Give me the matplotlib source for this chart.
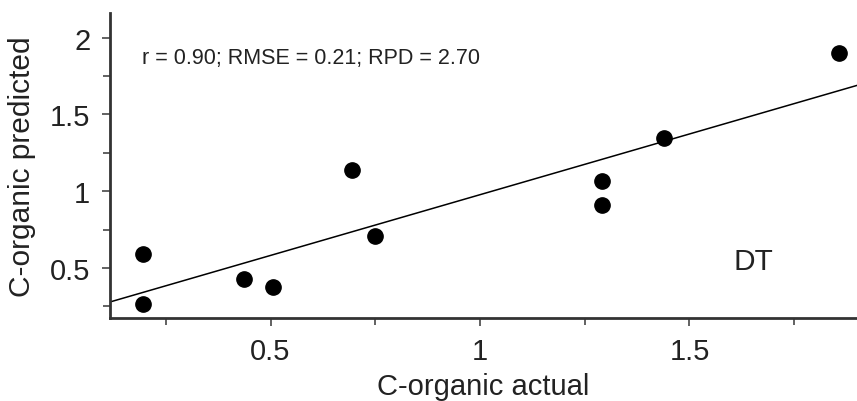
import numpy as np
import matplotlib
matplotlib.use('Agg')
import matplotlib.pyplot as plt
from matplotlib.ticker import MultipleLocator

# -----------------------------
# data
actual = [0.195, 0.195, 0.436, 0.505, 0.694, 0.749, 1.292, 1.292, 1.44, 1.856]
predicted = [0.59, 0.265, 0.428, 0.374, 1.14, 0.707, 1.067, 0.91, 1.346, 1.898]
fit_intercept = 0.186
fit_slope = 0.791
stats_text = "r = 0.90; RMSE = 0.21; RPD = 2.70"
model_name = "DT"
x_ticks = [0.5, 1, 1.5]
y_ticks = [0.5, 1, 1.5, 2]

# -----------------------------
plt.rcParams['font.family'] = ['Liberation Sans', 'DejaVu Sans']
txt = '#222222'

fig = plt.figure(figsize=(8.57, 4.02), dpi=100)
ax = fig.add_axes([0.128, 0.2065, 0.872, 0.7585])

ax.plot(actual, predicted, 'o', color='black', markersize=11, zorder=3)
ax.axline((0, fit_intercept), slope=fit_slope, color='black', lw=1.1, zorder=2)

ax.set_xlim(0.116, 1.90)
ax.set_ylim(0.174, 2.16)

ax.set_xticks(x_ticks)
ax.set_xticklabels(['0.5', '1', '1.5'])
ax.set_yticks(y_ticks)
ax.set_yticklabels(['0.5', '1', '1.5', '2'])
ax.xaxis.set_minor_locator(MultipleLocator(0.25))
ax.yaxis.set_minor_locator(MultipleLocator(0.25))

for s in ['top', 'right']:
    ax.spines[s].set_visible(False)
for s in ['left', 'bottom']:
    ax.spines[s].set_linewidth(2)
    ax.spines[s].set_color('#333333')

ax.tick_params(which='major', length=6, width=1.3, color='#555555',
               labelsize=21, labelcolor=txt)
ax.tick_params(which='minor', length=5, width=1.3, color='#555555')
ax.tick_params(axis='x', which='major', pad=8)
ax.tick_params(axis='y', which='major', pad=8)

ax.set_xlabel('C-organic actual', fontsize=21, color=txt, labelpad=5)
ax.set_ylabel('C-organic predicted', fontsize=21.5, color=txt, labelpad=10)

# texts placed in pixel coordinates of the figure
ax.text(141.7, 402 - 59, stats_text, transform=None, fontsize=15.5,
        color=txt, va='center', ha='left')
ax.text(753, 402 - 262.5, model_name, transform=None, fontsize=21.5,
        color=txt, va='center', ha='center')

fig.savefig('out.png', dpi=100)
